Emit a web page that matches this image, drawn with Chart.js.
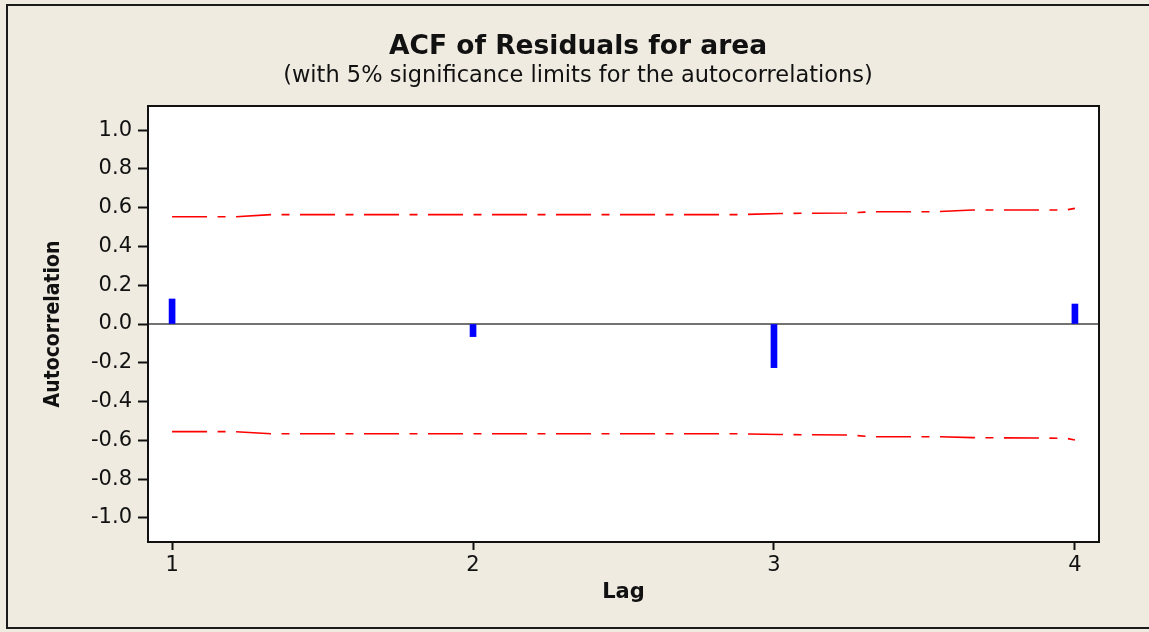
<!DOCTYPE html>
<html>
<head>
<meta charset="utf-8">
<script src="https://cdn.jsdelivr.net/npm/chart.js@4.4.1/dist/chart.umd.min.js"></script>
<style>
    * {
        margin: 0;
        padding: 0;
    }
    body {
        background: #efebe1;
        width: 1149px;
        height: 632px;
        overflow: hidden;
    }
    #acf {
        display: block;
    }
</style>
</head>
<body>
<canvas id="acf" width="1149" height="632"></canvas>
<script>
// lags and autocorrelations
const lags = [1, 2, 3, 4];
const acf = [0.129, -0.065, -0.225, 0.103];

// 5% significance limits (read at the kinks of the drawn curve)
const limitLags = [1, 1.21, 1.33, 2, 2.88, 3.02, 3.24, 3.33, 3.54, 3.66, 3.97, 4];
const upperLimit = [0.553, 0.553, 0.564, 0.564, 0.564, 0.570, 0.572, 0.579, 0.579, 0.588, 0.588, 0.596];
const lowerLimit = [-0.555, -0.555, -0.566, -0.566, -0.566, -0.570, -0.572, -0.581, -0.581, -0.586, -0.589, -0.598];

const yTicks = [-1.0, -0.8, -0.6, -0.4, -0.2, 0.0, 0.2, 0.4, 0.6, 0.8, 1.0];
const xTicks = [1, 2, 3, 4];

const xRange = [0.92, 4.08];
const yRange = [-1.124, 1.124];

const ink = "#111111";
const tickFont = { family: "DejaVu Sans, Verdana, sans-serif", size: 21 };


// frame, white plot area and box round it
const framePlugin = {
    id: "frame",
    beforeDraw(chart) {
        const ctx = chart.ctx;
        const a = chart.chartArea;
        ctx.save();
        ctx.fillStyle = "#efebe1";
        ctx.fillRect(0, 0, chart.width, chart.height);
        ctx.strokeStyle = "#1a1a1a";
        ctx.lineWidth = 2;
        ctx.strokeRect(7, 5, chart.width + 20, 623);
        ctx.fillStyle = "#ffffff";
        ctx.fillRect(a.left, a.top, a.right - a.left, a.bottom - a.top);
        ctx.restore();
    },
    afterDraw(chart) {
        const ctx = chart.ctx;
        const a = chart.chartArea;
        ctx.save();
        ctx.strokeStyle = ink;
        ctx.lineWidth = 2;
        ctx.strokeRect(a.left, a.top, a.right - a.left, a.bottom - a.top);
        ctx.restore();
    }
};


const limitDash = [35, 10.5, 8, 10.5];

const datasets = [
    {
        type: "line",
        label: "zero",
        data: xRange.map(x => ({ x: x, y: 0 })),
        borderColor: "#444444",
        borderWidth: 1.5,
        pointRadius: 0,
        order: 3
    },
    {
        type: "line",
        label: "upper",
        data: limitLags.map((x, i) => ({ x: x, y: upperLimit[i] })),
        borderColor: "#ff0000",
        borderWidth: 1.6,
        borderDash: limitDash,
        pointRadius: 0,
        tension: 0,
        order: 2
    },
    {
        type: "line",
        label: "lower",
        data: limitLags.map((x, i) => ({ x: x, y: lowerLimit[i] })),
        borderColor: "#ff0000",
        borderWidth: 1.6,
        borderDash: limitDash,
        pointRadius: 0,
        tension: 0,
        order: 2
    },
    {
        type: "bar",
        label: "ACF",
        data: lags.map((x, i) => ({ x: x, y: acf[i] })),
        backgroundColor: "#0000ff",
        borderWidth: 0,
        barThickness: 6,
        grouped: false,
        order: 1
    }
];


new Chart(document.getElementById("acf"), {
    type: "line",
    data: { datasets: datasets },
    plugins: [framePlugin],
    options: {
        responsive: false,
        animation: false,
        devicePixelRatio: 1,
        layout: {
            padding: { left: 7, right: 0, top: 0, bottom: 0 }
        },
        plugins: {
            legend: { display: false },
            tooltip: { enabled: false },
            title: {
                display: true,
                text: "ACF of Residuals for area",
                color: ink,
                font: { family: "DejaVu Sans, Verdana, sans-serif", size: 26.5, weight: "bold" },
                padding: { top: 31, bottom: 0 }
            },
            subtitle: {
                display: true,
                text: "(with 5% significance limits for the autocorrelations)",
                color: ink,
                font: { family: "DejaVu Sans, Verdana, sans-serif", size: 22.5 },
                padding: { top: 0, bottom: 16.2 }
            }
        },
        scales: {
            x: {
                type: "linear",
                min: xRange[0],
                max: xRange[1],
                offset: false,
                afterBuildTicks: s => { s.ticks = xTicks.map(v => ({ value: v })); },
                afterFit: s => { s.height = 90; },
                ticks: {
                    color: ink,
                    font: tickFont,
                    padding: 3,
                    maxRotation: 0,
                    callback: v => String(v)
                },
                grid: {
                    offset: false,
                    drawOnChartArea: false,
                    drawTicks: true,
                    tickLength: 8,
                    tickWidth: 2,
                    tickColor: ink
                },
                border: { display: true, color: ink, width: 2 },
                title: {
                    display: true,
                    text: "Lag",
                    color: ink,
                    font: { family: "DejaVu Sans, Verdana, sans-serif", size: 21, weight: "bold" },
                    padding: { top: 0, bottom: 27 }
                }
            },
            y: {
                type: "linear",
                min: yRange[0],
                max: yRange[1],
                afterBuildTicks: s => { s.ticks = yTicks.map(v => ({ value: v })); },
                afterFit: s => { s.width = 141; },
                ticks: {
                    color: ink,
                    font: tickFont,
                    padding: 6,
                    callback: v => v.toFixed(1)
                },
                grid: {
                    drawOnChartArea: false,
                    drawTicks: true,
                    tickLength: 10,
                    tickWidth: 2,
                    tickColor: ink
                },
                border: { display: true, color: ink, width: 2 },
                title: {
                    display: true,
                    text: "Autocorrelation",
                    color: ink,
                    font: { family: "DejaVu Sans Condensed, DejaVu Sans, sans-serif", size: 21, weight: "bold" },
                    padding: { top: 34, bottom: 0 }
                }
            },
            // empty margin on the right of the plot box
            yRight: {
                type: "linear",
                position: "right",
                afterFit: s => { s.width = 50; },
                ticks: { display: false },
                grid: { display: false },
                border: { display: false }
            }
        }
    }
});
</script>
</body>
</html>
